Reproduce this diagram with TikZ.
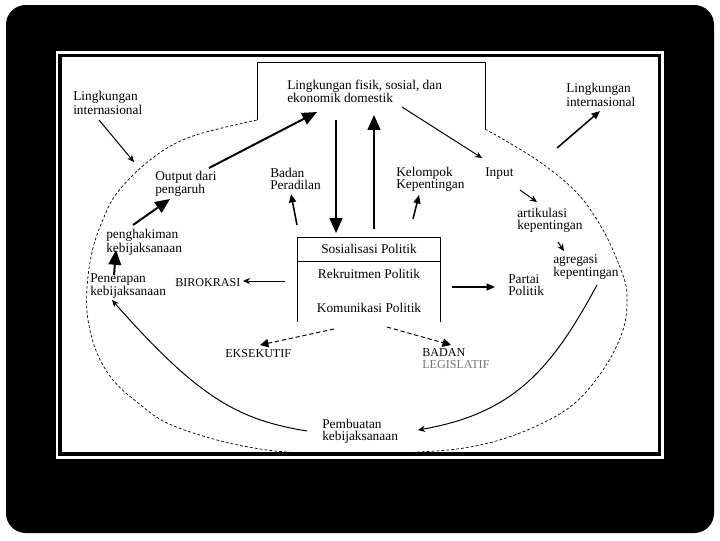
\documentclass[tikz,border=0pt]{standalone}
\usepackage{fontspec}
\setmainfont{Liberation Serif}
\usetikzlibrary{arrows.meta}

\tikzset{
    lbl/.style={font=\fontsize{9.5}{8.5}\selectfont, align=left, anchor=west, inner sep=0pt},
    caps/.style={lbl, font=\fontsize{8.6}{8.5}\selectfont},
    rowtxt/.style={font=\fontsize{9.5}{8.5}\selectfont, inner sep=0pt},
    bigarr/.style={-{Triangle[length=10.5pt,width=9pt]}, line width=1.4pt},
    medarr/.style={-{Triangle[length=6pt,width=5pt]}, line width=1.1pt},
    thinarr/.style={-{Stealth[length=5pt,width=4.5pt]}, line width=0.7pt},
    dasharr/.style={-{Triangle[length=6pt,width=6pt]}, line width=0.7pt, dash pattern=on 3pt off 2pt},
    rim/.style={line width=0.5pt, dash pattern=on 2pt off 1.5pt}
}

\begin{document}
\begin{tikzpicture}[x=0.025cm, y=-0.025cm]
    % Frame
    \fill[white] (0,0) rectangle (720,540);
    \fill[black, rounded corners=14pt] (6,5) rectangle (714,533);
    \fill[white] (56,51) rectangle (664,459);
    \draw[line width=2.2pt] (60,55.5) rectangle (659.5,454);

    % Domestic environment box (open below)
    \draw[line width=0.7pt] (257,120) -- (257,62) -- (485,62) -- (485,129);
    \node[lbl] (domestik) at (287,91.5) {Lingkungan fisik, sosial, dan\\ekonomik domestik};

    % System boundary
    \draw[rim] plot[smooth, tension=0.6] coordinates {
        (485,129) (537,160) (577,193) (603,230) (621,270) (627,295) (623,330)
        (603,370) (570,407) (520,433) (470,447) (420,452) (365,454) (310,453)
        (267,450) (217,440) (167,423) (137,402) (113,380) (97,353) (88,320)
        (87,288) (92,252) (102,222) (117,193) (150,160) (190,137) (257,120)};

    % Centre table
    \draw[line width=0.7pt] (297,322) -- (297,237) -- (440,237) -- (440,322);
    \draw[line width=0.7pt] (297,261) -- (440,261);
    \node[rowtxt] (sos) at (369,249) {Sosialisasi Politik};
    \node[rowtxt] (rek) at (369,274) {Rekruitmen Politik};
    \node[rowtxt] (kom) at (369,308) {Komunikasi Politik};

    % Labels
    \node[lbl] (lingL) at (73,103) {Lingkungan\\internasional};
    \node[lbl] (lingR) at (566,95) {Lingkungan\\internasional};
    \node[lbl] (output) at (155,184) {Output dari\\pengaruh};
    \node[lbl] (hakim) at (106,242.5) {penghakiman\\kebijaksanaan};
    \node[lbl] (terap) at (90,286) {Penerapan\\kebijaksanaan};
    \node[caps] (biro) at (175,283) {BIROKRASI};
    \node[lbl] (adil) at (270,179) {Badan\\Peradilan};
    \node[lbl] (kelompok) at (396,179) {Kelompok\\Kepentingan};
    \node[lbl] (input) at (485,174) {Input};
    \node[lbl] (artik) at (517,220) {artikulasi\\kepentingan};
    \node[lbl] (agreg) at (553,267) {agregasi\\kepentingan};
    \node[lbl] (partai) at (508,285) {Partai\\Politik};
    \node[caps] (eksek) at (225,354) {EKSEKUTIF};
    \node[caps] (legis) at (422,358.5) {BADAN\\\textcolor{black!55}{LEGISLATIF}};
    \node[lbl] (buat) at (322,431.5) {Pembuatan\\kebijaksanaan};

    % Free ends on the boundary
    \coordinate (rimL) at (134,162);
    \coordinate (rimR) at (557,148);

    % Output side
    \draw[thinarr] ([shift={(26,17)}]lingL.west) -- (rimL);
    \draw[bigarr] ([shift={(24,-11)}]terap.west) -- ([shift={(10,7.5)}]hakim.west);
    \draw[bigarr] ([shift={(27,-17.5)}]hakim.west) -- ([shift={(15,15)}]output.west);
    \draw[bigarr] ([shift={(54,-16)}]output.west) -- ([shift={(30,20.5)}]domestik.west);

    % Feedback through the centre
    \draw[bigarr] ([shift={(49,28.5)}]domestik.west) -- ([shift={(-33,-16)}]sos.center);
    \draw[bigarr] ([shift={(5,-20)}]sos.center) -- ([shift={(87,23.5)}]domestik.west);

    % Structures
    \draw[medarr] ([shift={(-72,-24)}]sos.center) -- ([shift={(21,15)}]adil.west);
    \draw[medarr] ([shift={(44,-30)}]sos.center) -- ([shift={(23,16)}]kelompok.west);
    \draw[thinarr] ([shift={(-84,7)}]rek.center) -- ([shift={(68,-2)}]biro.west);
    \draw[medarr] ([shift={(83,13)}]rek.center) -- ([shift={(-13,2)}]partai.west);
    \draw[dasharr] ([shift={(-35,21)}]kom.center) -- ([shift={(35,-9)}]eksek.west);
    \draw[dasharr] ([shift={(18,19)}]kom.center) -- ([shift={(29,-13.5)}]legis.west);

    % Input side
    \draw[thinarr] ([shift={(115,15.5)}]domestik.west) -- ([shift={(-3,-16)}]input.west);
    \draw[thinarr] ([shift={(35,16)}]input.west) -- ([shift={(20,-18)}]artik.west);
    \draw[thinarr] ([shift={(41,22)}]artik.west) -- ([shift={(11,-16)}]agreg.west);
    \draw[medarr] (rimR) -- ([shift={(34,16)}]lingR.west);

    % Conversion loop
    \draw[thinarr] ([shift={(44,18)}]agreg.west) .. controls (552,368) and (515,413) .. ([shift={(96,-1.5)}]buat.west);
    \draw[thinarr] ([shift={(-15,-0.5)}]buat.west) .. controls (240,420) and (200,400) .. ([shift={(22,14)}]terap.west);
\end{tikzpicture}
\end{document}
